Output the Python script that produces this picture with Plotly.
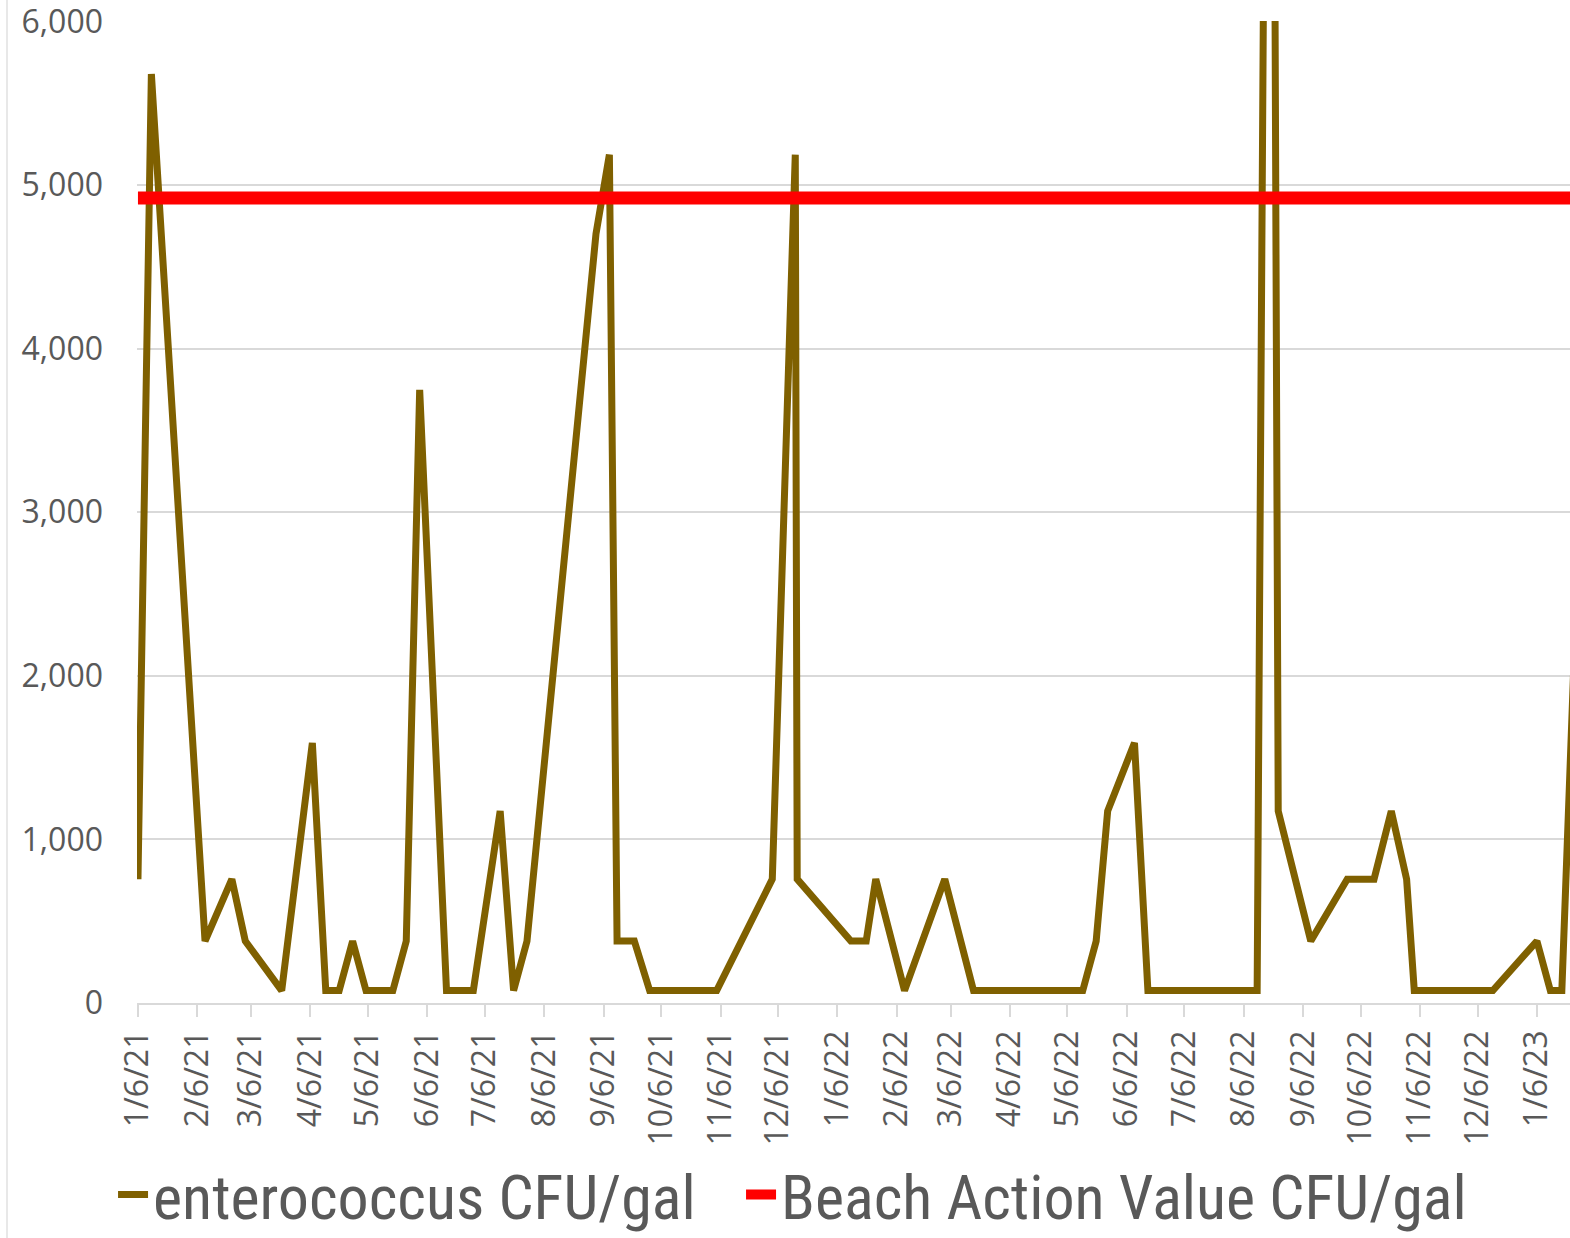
import plotly.graph_objects as go
import pandas as pd

# ---- data ----
sample_dates = [
    "2021-01-06", "2021-01-13", "2021-02-10", "2021-02-24", "2021-03-03", "2021-03-22",
    "2021-04-07", "2021-04-14", "2021-04-21", "2021-04-28", "2021-05-05", "2021-05-19",
    "2021-05-26", "2021-06-02", "2021-06-16", "2021-06-30", "2021-07-14", "2021-07-21",
    "2021-07-28", "2021-09-02", "2021-09-09", "2021-09-13", "2021-09-22", "2021-09-30",
    "2021-11-04", "2021-12-03", "2021-12-15", "2021-12-16", "2022-01-13", "2022-01-21",
    "2022-01-26", "2022-02-10", "2022-03-03", "2022-03-18", "2022-05-14", "2022-05-21",
    "2022-05-27", "2022-06-10", "2022-06-17", "2022-08-13", "2022-08-20", "2022-08-24",
    "2022-09-10", "2022-09-29", "2022-10-13", "2022-10-22", "2022-10-30", "2022-11-03",
    "2022-12-14", "2023-01-06", "2023-01-13", "2023-01-19", "2023-01-26",
]
enterococcus = [
    757, 5678, 378.5, 757, 378.5, 76,
    1590, 76, 76, 378.5, 76, 76,
    378.5, 3747, 76, 76, 1173, 76,
    378.5, 4700, 5185, 378.5, 378.5, 76,
    76, 757, 5185, 757, 378.5, 378.5,
    757, 76, 757, 76, 76, 378.5,
    1173, 1590, 76, 76, 13000, 1173,
    378.5, 757, 757, 1173, 757, 76,
    76, 378.5, 76, 76, 2300,
]
beach_action_value = [4920.5] * len(sample_dates)

tick_months = [(2021, m) for m in range(1, 13)] + [(2022, m) for m in range(1, 13)] + [(2023, 1)]
tick_dates = [f"{y}-{m:02d}-06" for y, m in tick_months]
tick_labels = [f"{m}/6/{str(y)[2:]}" for y, m in tick_months]

y_ticks = [0, 1000, 2000, 3000, 4000, 5000, 6000]

series_names = ["enterococcus CFU/gal", "Beach Action Value CFU/gal"]

# ---- figure ----
x = pd.to_datetime(sample_dates)
fig = go.Figure()
fig.add_trace(go.Scatter(
    x=x, y=enterococcus, mode="lines", name=series_names[0],
    line=dict(color="#7F6000", width=7), legend="legend",
))
fig.add_trace(go.Scatter(
    x=x, y=beach_action_value, mode="lines", name=series_names[1],
    line=dict(color="#FF0000", width=13), legend="legend2",
))

px_per_day = 1.9164
start = pd.Timestamp("2021-01-06") - pd.Timedelta(days=0.5)
end = start + pd.Timedelta(days=(1570 - 137) / px_per_day)

tick_font = dict(family="Open Sans", size=32, color="#595959")
legend_font = dict(family="Liberation Sans Narrow, Roboto Condensed, Roboto", size=62, color="#595959")

fig.update_layout(
    width=1570, height=1238,
    margin=dict(l=137, r=0, t=21, b=235),
    paper_bgcolor="white", plot_bgcolor="white",
    showlegend=True,
    legend=dict(
        orientation="h", xref="container", yref="container",
        x=0.072, y=0.035, xanchor="left", yanchor="middle",
        font=legend_font, itemwidth=30, bgcolor="rgba(0,0,0,0)",
    ),
    legend2=dict(
        orientation="h", xref="container", yref="container",
        x=0.472, y=0.035, xanchor="left", yanchor="middle",
        font=legend_font, itemwidth=30, bgcolor="rgba(0,0,0,0)",
    ),
    xaxis=dict(
        type="date", range=[start, end],
        tickvals=pd.to_datetime(tick_dates), ticktext=tick_labels,
        tickangle=-90, tickfont=tick_font,
        showgrid=False, showline=True, linecolor="#d9d9d9", linewidth=1.5,
        ticks="outside", ticklen=12, tickcolor="#d9d9d9", tickwidth=1.5,
        ticklabelstandoff=1, zeroline=False,
    ),
    yaxis=dict(
        range=[0, 6002], tickvals=y_ticks,
        tickformat=",d", tickfont=tick_font,
        showgrid=True, gridcolor="#d9d9d9", gridwidth=1.5,
        showline=False, zeroline=False, ticks="", ticklabelstandoff=33,
        ticklabeloverflow="allow",
    ),
    shapes=[dict(type="line", xref="paper", yref="paper",
                 x0=-130 / 1433, x1=-130 / 1433, y0=-235 / 982, y1=1 + 21 / 982,
                 line=dict(color="#e0e0e0", width=1.5))],
)

fig.write_html(
    "out.html",
    config={"displayModeBar": False},
    post_script="document.body.style.margin='0';document.body.style.overflow='hidden';",
)
